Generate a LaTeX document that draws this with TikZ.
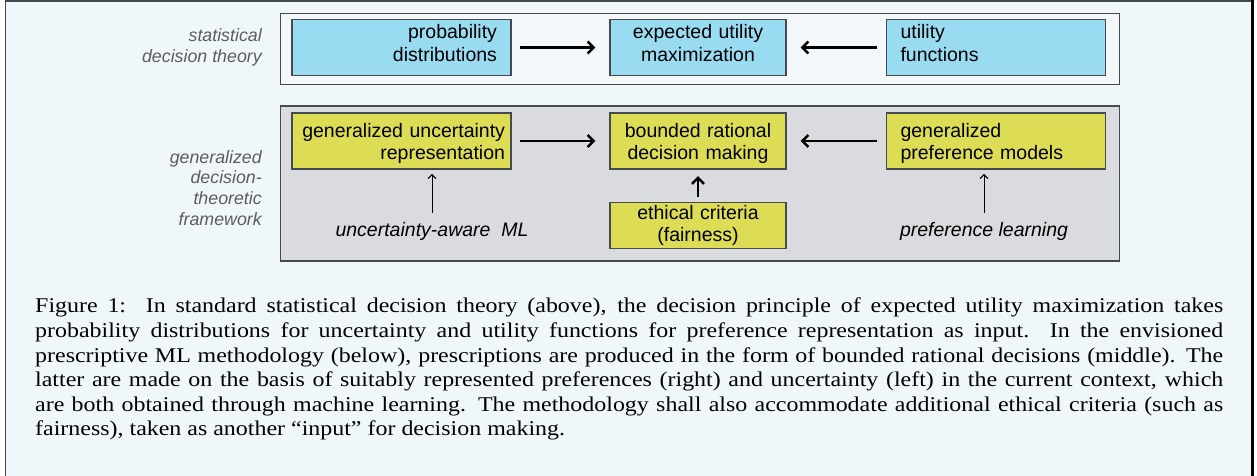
\documentclass[tikz,border=0pt]{standalone}
\usepackage{fontspec}
\setmainfont{Liberation Serif}[FakeStretch=1.14]
\newfontfamily\diagfont{Liberation Sans}
\usetikzlibrary{arrows.meta}
\definecolor{pagebg}{HTML}{F0F7FB}
\definecolor{topbg}{HTML}{F4F8FA}
\definecolor{graybg}{HTML}{D9DBDE}
\definecolor{boxblue}{HTML}{99DCF2}
\definecolor{boxyellow}{HTML}{DCDC55}
\definecolor{edgegray}{HTML}{454A50}
\definecolor{labelgray}{HTML}{5C5C5C}
\tikzset{
  box/.style={draw=edgegray, line width=1.2pt, minimum height=56pt, inner ysep=0pt,
    font=\diagfont\fontsize{19.5}{22.3}\selectfont},
  sidebox/.style={box, inner xsep=14pt, text width=191pt},
  midbox/.style={box, inner xsep=8pt, text width=160pt, align=center},
  toprow/.style={text height=13pt, text depth=30.4pt},
  lowrow/.style={text height=13pt, text depth=20.4pt},
  side/.style={font=\diagfont\itshape\fontsize{17.8}{20.8}\selectfont, text=labelgray,
    align=right, anchor=east, inner sep=0pt},
  mltext/.style={font=\diagfont\itshape\fontsize{19.5}{22.3}\selectfont, inner sep=0pt},
  bigarrow/.style={line width=2.5pt, -{Straight Barb[length=6pt,width=12pt]}},
  thinarrow/.style={line width=1pt, -{Straight Barb[length=4pt,width=8pt]}}
}
\begin{document}
\begin{tikzpicture}[x=1pt,y=-1pt]
  \useasboundingbox (0,0) rectangle (1257,475);
  \fill[pagebg] (5,0) rectangle (1252,480);
  \draw[edgegray, line width=1.5pt] (5.5,480) -- (5.5,0.8) -- (1252,0.8);
  \draw[black, line width=3pt] (1252,0) -- (1252,480);
  % frames
  \filldraw[fill=topbg, draw=edgegray, line width=1.2pt] (280.5,13.5) rectangle (1119.5,84.3);
  \filldraw[fill=graybg, draw=edgegray, line width=1.2pt] (280.5,106) rectangle (1119.5,261);
  \node[side] at (262,47) (sdt) {statistical\\decision theory};
  \node[side] at (262,188) (gdt) {generalized\\decision-\\theoretic\\framework};
  % top row
  \node[sidebox, toprow, fill=boxblue, align=right] at (401.5,47.5) (prob) {probability\\distributions};
  \node[midbox, toprow, fill=boxblue] at (698,47.5) (exp) {expected utility\\maximization};
  \node[sidebox, toprow, fill=boxblue, align=left] at (996,47.5) (util) {utility\\functions};
  \path[draw,bigarrow,shorten <=8.5pt,shorten >=14pt] (prob) -- (exp);
  \path[draw,bigarrow,shorten <=8.5pt,shorten >=14pt] (util) -- (exp);
  % bottom row
  \node[sidebox, lowrow, fill=boxyellow, align=right, inner xsep=6pt, text width=207pt] at (401.5,141) (unc) {generalized uncertainty\\representation};
  \node[midbox, lowrow, fill=boxyellow] at (698,141) (brd) {bounded rational\\decision making};
  \node[sidebox, lowrow, fill=boxyellow, align=left] at (996,141) (pref) {generalized\\preference models};
  \node[midbox, fill=boxyellow, minimum height=45.6pt] at (698,225.5) (eth) {ethical criteria\\(fairness)};
  \path[draw,bigarrow,shorten <=8.5pt,shorten >=14pt] (unc) -- (brd);
  \path[draw,bigarrow,shorten <=8.5pt,shorten >=14pt] (pref) -- (brd);
  \path[draw,bigarrow,shorten <=5.5pt,shorten >=6.5pt] (eth) -- (brd);
  \node[mltext, anchor=base] at (432,236.5) (uml) {uncertainty-aware~~ML};
  \node[mltext, anchor=base] at (984,236.5) (plearn) {preference learning};
  \path[draw,thinarrow,shorten <=9pt,shorten >=4.3pt] (uml.north) -- (uml.north |- unc.south);
  \path[draw,thinarrow,shorten <=9pt,shorten >=4.3pt] (plearn.north) -- (plearn.north |- pref.south);
  % caption
  \node[anchor=north west, inner sep=0pt, text width=1188pt, align=justify,
    font=\fontsize{21}{24.6}\selectfont] at (35,298) (cap)
    {Figure 1:\ \ In standard statistical decision theory (above), the decision principle of expected utility maximization takes\linebreak
    probability distributions for uncertainty and utility functions for preference representation as input.\ \ In the envisioned\linebreak
    prescriptive ML methodology (below), prescriptions are produced in the form of bounded rational decisions (middle). The\linebreak
    latter are made on the basis of suitably represented preferences (right) and uncertainty (left) in the current context, which\linebreak
    are both obtained through machine learning. The methodology shall also accommodate additional ethical criteria (such as\linebreak
    fairness), taken as another “input” for decision making.};
\end{tikzpicture}
\end{document}
